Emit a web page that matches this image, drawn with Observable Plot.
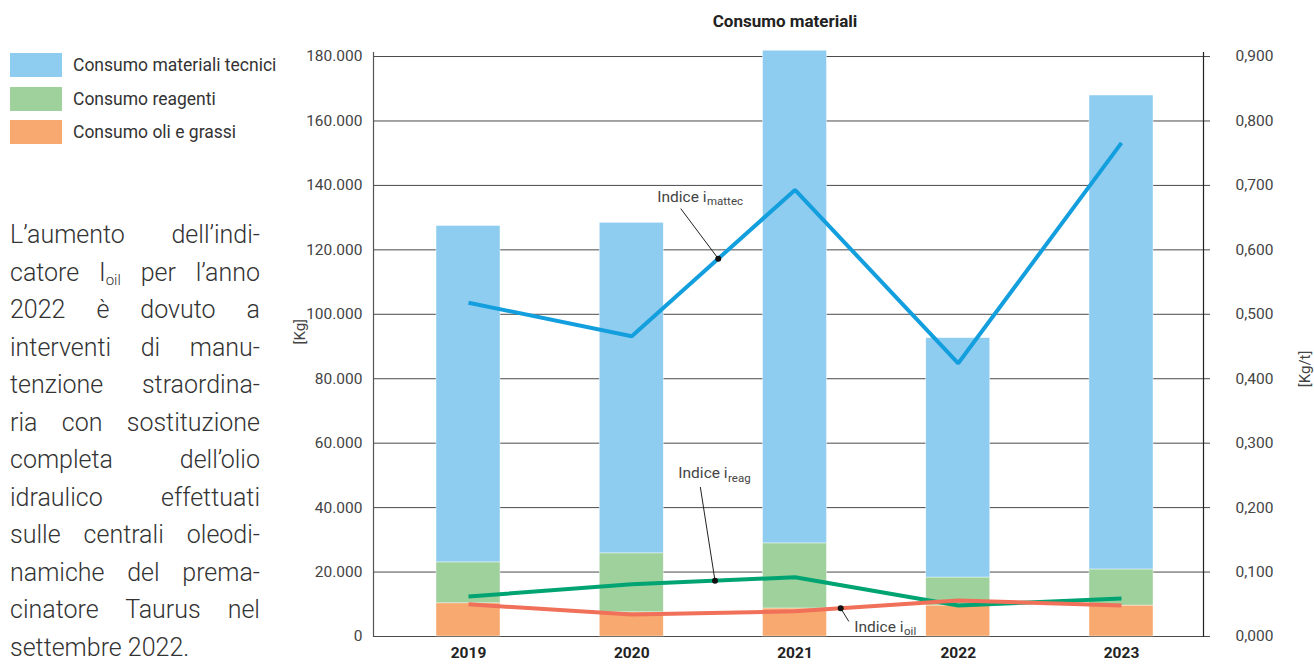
<!DOCTYPE html>
<html><head><meta charset="utf-8">
<script src="https://cdn.jsdelivr.net/npm/d3@7"></script>
<script src="https://cdn.jsdelivr.net/npm/@observablehq/plot@0.6"></script>
<style>
body{margin:0;width:1314px;height:664px;position:relative;background:#fff;font-family:Roboto,"Noto Sans",sans-serif;color:#333;overflow:hidden}
#legend{position:absolute;left:10px;top:53px}
.item{display:flex;align-items:center;height:24px;margin-bottom:9.5px;font-size:17.5px;color:#333}
.sw{width:52px;height:24px;margin-right:11px;flex:none}
#note{position:absolute;left:10px;top:216px;width:250px;font-size:25px;font-weight:300;line-height:37.5px;color:#333}
.ln{text-align:justify;text-align-last:justify;white-space:nowrap}
.ln.last{text-align:left;text-align-last:left}
#note sub{font-size:15px;vertical-align:-4px;line-height:0}
#title{position:absolute;left:635px;width:300px;top:11px;text-align:center;font-weight:bold;font-size:17px;color:#222}
#chart{position:absolute;left:290px;top:40px}
</style></head>
<body>
<div id="legend"></div>
<div id="note"></div>
<div id="title">Consumo materiali</div>
<div id="chart"></div>
<script>
// ---- data ----
const years = [2019, 2020, 2021, 2022, 2023];
const oliGrassi = [10300, 7500, 8700, 9600, 9600];          // kg
const reagenti = [12700, 18300, 20200, 8700, 11200];         // kg
const materialiTecnici = [104400, 102600, 152900, 74300, 147100]; // kg
const iMattec = [0.518, 0.466, 0.693, 0.424, 0.766];         // kg/t
const iReag = [0.062, 0.081, 0.092, 0.048, 0.059];           // kg/t
const iOil = [0.050, 0.034, 0.039, 0.056, 0.048];            // kg/t
const leftTicks = [0, 20000, 40000, 60000, 80000, 100000, 120000, 140000, 160000, 180000];
const rightTicks = [0, 0.1, 0.2, 0.3, 0.4, 0.5, 0.6, 0.7, 0.8, 0.9];
const legendLabels = ["Consumo materiali tecnici", "Consumo reagenti", "Consumo oli e grassi"];
const noteLines = ["L’aumento dell’indi-", "catore I<sub>oil</sub> per l’anno", "2022 è dovuto a", "interventi di manu-", "tenzione straordina-", "ria con sostituzione", "completa dell’olio", "idraulico effettuati", "sulle centrali oleodi-", "namiche del prema-", "cinatore Taurus nel", "settembre 2022."];

// ---- styles ----
const barColors = {tecnici: "#8fcdf0", reagenti: "#9ed19c", oli: "#f8a96f"};
const lineColors = {mattec: "#139fde", reag: "#00a473", oil: "#f0705a"};
const K = 200000; // 0,900 kg/t <-> 180.000 kg

document.getElementById("legend").innerHTML = legendLabels.map((l, i) =>
  `<div class="item"><div class="sw" style="background:${[barColors.tecnici, barColors.reagenti, barColors.oli][i]}"></div>${l}</div>`).join("");
document.getElementById("note").innerHTML = noteLines.map((l, i) =>
  `<div class="ln${i === noteLines.length - 1 ? " last" : ""}">${l}</div>`).join("");

const it = d3.formatLocale({decimal: ",", thousands: ".", grouping: [3], currency: ["€", ""]});
const fKg = it.format(",d"), fKt = it.format(".3f");

const stacks = [];
years.forEach((yr, i) => {
  let base = 0;
  [["oli", oliGrassi], ["reagenti", reagenti], ["tecnici", materialiTecnici]].forEach(([k, arr]) => {
    stacks.push({year: yr, serie: k, y1: base, y2: base + arr[i]});
    base += arr[i];
  });
});
const series = (arr) => years.map((yr, i) => ({year: yr, v: arr[i] * K}));
function valueAt(arr, t) {
  const i = Math.min(Math.floor(t - years[0]), years.length - 2);
  const f = t - years[0] - i;
  return (arr[i] + (arr[i + 1] - arr[i]) * f) * K;
}
const notes = [
  {arr: iMattec, t: 2020.53, lx: 2020.30, ly: 0.664, tx: 2020.458, ty: 0.682, sy: 0.675, sub: "mattec"},
  {arr: iReag, t: 2020.51, lx: 2020.42, ly: 0.232, tx: 2020.587, ty: 0.253, sy: 0.246, sub: "reag"},
  {arr: iOil, t: 2021.28, lx: 2021.33, ly: 0.0233, tx: 2021.665, ty: 0.0145, sy: 0.008, sub: "oil"}
];
const hw = 0.196;
const barMark = (k) => Plot.rectY(stacks.filter(d => d.serie === k), {
  x1: d => d.year - hw, x2: d => d.year + hw, y1: "y1", y2: "y2", fill: barColors[k], stroke: "#fff", strokeWidth: 0.6, strokeOpacity: 0.7
});

const chart = Plot.plot({
  width: 1024, height: 624,
  marginLeft: 83, marginRight: 111, marginTop: 12, marginBottom: 28,
  style: {fontFamily: "Roboto, 'Noto Sans', sans-serif", background: "transparent", overflow: "visible"},
  x: {type: "linear", domain: [2019, 2023], range: [178, 831], axis: null},
  y: {domain: [0, 181250], axis: null},
  marks: [
    Plot.gridY({ticks: leftTicks, stroke: "#4a4a4a", strokeOpacity: 1, strokeWidth: 1, insetRight: -7}),
    barMark("oli"), barMark("reagenti"), barMark("tecnici"),
    Plot.frame({anchor: "left", stroke: "#555", strokeWidth: 1.2}),
    Plot.frame({anchor: "right", stroke: "#222", strokeWidth: 1.2}),
    Plot.axisY({ticks: leftTicks, tickFormat: fKg, tickSize: 0, tickPadding: 11, fontSize: 15.5, fill: "#444", label: null}),
    Plot.axisY({anchor: "right", ticks: rightTicks.map(v => v * K), tickFormat: v => fKt(v / K), tickSize: 0, tickPadding: 0, textAnchor: "end", dx: 70, fontSize: 15.5, fill: "#444", label: null}),
    Plot.axisX({ticks: years, tickFormat: d => String(d), tickSize: 0, tickPadding: 10, fontSize: 15.5, fontWeight: "bold", fill: "#222", label: null}),
    Plot.lineY(series(iMattec), {x: "year", y: "v", stroke: lineColors.mattec, strokeWidth: 4, strokeLinejoin: "miter", strokeLinecap: "butt"}),
    Plot.lineY(series(iReag), {x: "year", y: "v", stroke: lineColors.reag, strokeWidth: 4, strokeLinejoin: "miter", strokeLinecap: "butt"}),
    Plot.lineY(series(iOil), {x: "year", y: "v", stroke: lineColors.oil, strokeWidth: 4, strokeLinejoin: "miter", strokeLinecap: "butt"}),
    Plot.link(notes, {x1: "lx", y1: d => d.ly * K, x2: "t", y2: d => valueAt(d.arr, d.t), stroke: "#222", strokeWidth: 1}),
    Plot.dot(notes, {x: "t", y: d => valueAt(d.arr, d.t), r: 3, fill: "#111", stroke: "none"}),
    Plot.text(notes, {x: "tx", y: d => d.ty * K, text: () => "Indice i", textAnchor: "end", fontSize: 15.5, fill: "#444"}),
    Plot.text(notes, {x: "tx", y: d => d.sy * K, text: "sub", textAnchor: "start", fontSize: 11.5, fill: "#444", dx: 0.5}),
    Plot.text(["[Kg]"], {frameAnchor: "left", dx: -73, rotate: -90, fontSize: 15, fill: "#444"}),
    Plot.text(["[Kg/t]"], {frameAnchor: "right", dx: 102, dy: 6, rotate: -90, fontSize: 15, fill: "#444"})
  ]
});
document.getElementById("chart").appendChild(chart);
</script>
</body></html>
